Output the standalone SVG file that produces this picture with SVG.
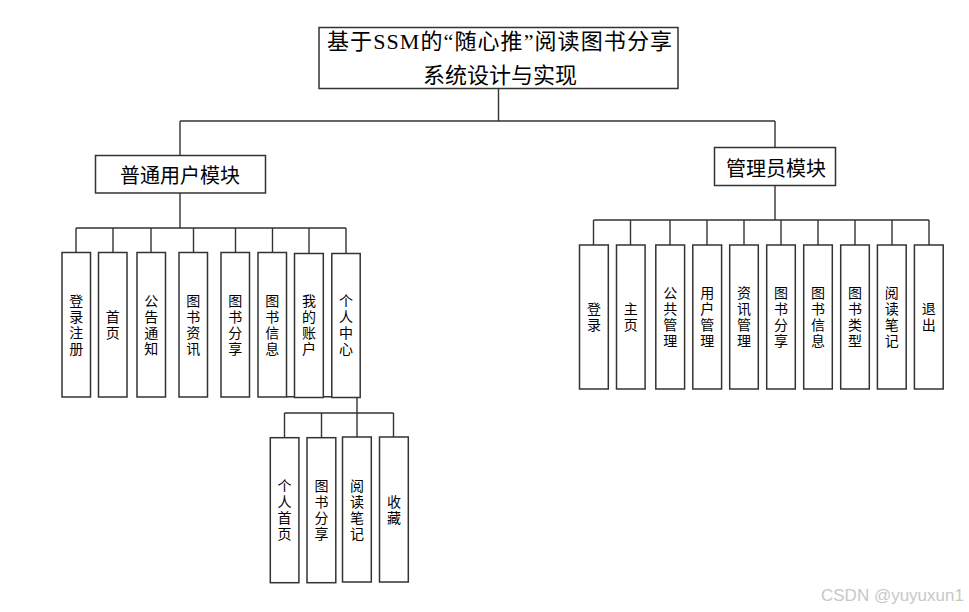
<svg xmlns="http://www.w3.org/2000/svg" width="969" height="612" viewBox="0 0 969 612">
<style>
.box{fill:#fff;stroke:#333;stroke-width:1.5}
.ln{fill:none;stroke:#333;stroke-width:1.4}
.t{font-family:"Liberation Serif","Noto Sans CJK SC",serif;font-size:22px;fill:#000;text-anchor:middle}
.m{font-family:"Noto Sans CJK SC",sans-serif;font-size:20px;fill:#000;text-anchor:middle}
.v{font-family:"Noto Sans CJK SC",sans-serif;font-size:14px;fill:#000;text-anchor:middle;writing-mode:vertical-rl;letter-spacing:2px}
.wm{font-family:"Liberation Sans","Noto Sans",sans-serif;font-size:17px;fill:#c8c8c8}
</style>
<rect width="969" height="612" fill="#fff"/>
<g id="connectors">
<path class="ln" d="M498.5 88V121M180 121H775M180 121V155M775 121V147"/>
<path class="ln" d="M180 193V228M76 228H346M76 228V252M113 228V252M151 228V252M193.5 228V252M235.5 228V252M272.5 228V252M309 228V253M346 228V253"/>
<path class="ln" d="M357 397.5V413M284.5 413H393.5M284.5 413V437.5M321.5 413V437.5M357 413V437M393.5 413V437"/>
<path class="ln" d="M286.5 396.7H331.5"/>
<path class="ln" d="M775 185V220M593.5 220H929M593.5 220V245M630.5 220V245M670 220V245M707 220V245M744 220V245M781 220V245M818 220V245M855 220V245M892 220V245M929 220V245"/>
</g>
<g id="title">
<rect class="box" x="319" y="27.5" width="359" height="61"/>
<text class="t" x="499.5" y="48.5" textLength="345" lengthAdjust="spacing">基于SSM的“随心推”阅读图书分享</text>
<text class="t" x="500" y="83">系统设计与实现</text>
</g>
<g id="user-module">
<rect class="box" x="95.5" y="155.5" width="170" height="37.5"/>
<text class="m" x="180" y="183">普通用户模块</text>
</g>
<g id="admin-module">
<rect class="box" x="714.5" y="147.5" width="121" height="38"/>
<text class="m" x="776" y="175.5">管理员模块</text>
</g>
<g id="u1"><rect class="box" x="62" y="252.5" width="28.5" height="144.5"/><text class="v" x="76.2" y="325.5">登录注册</text></g>
<g id="u2"><rect class="box" x="98.5" y="252.5" width="28.5" height="144.5"/><text class="v" x="112.8" y="325.5">首页</text></g>
<g id="u3"><rect class="box" x="137" y="252.5" width="28.5" height="144.5"/><text class="v" x="151.2" y="325.5">公告通知</text></g>
<g id="u4"><rect class="box" x="179" y="252.5" width="28.5" height="144.5"/><text class="v" x="193.3" y="325.5">图书资讯</text></g>
<g id="u5"><rect class="box" x="221" y="252.5" width="28.5" height="144.5"/><text class="v" x="235.3" y="325.5">图书分享</text></g>
<g id="u6"><rect class="box" x="258" y="252.5" width="28.5" height="144.5"/><text class="v" x="272.2" y="325.5">图书信息</text></g>
<g id="u7"><rect class="box" x="294.5" y="253.5" width="28.8" height="144"/><text class="v" x="308.9" y="326">我的账户</text></g>
<g id="u8"><rect class="box" x="331.8" y="253.5" width="28.4" height="144"/><text class="v" x="346" y="326">个人中心</text></g>
<g id="p1"><rect class="box" x="270.3" y="437.7" width="28.6" height="145"/><text class="v" x="284.6" y="511">个人首页</text></g>
<g id="p2"><rect class="box" x="307" y="437.7" width="28.8" height="145"/><text class="v" x="321.4" y="511">图书分享</text></g>
<g id="p3"><rect class="box" x="342.5" y="437" width="28.8" height="145"/><text class="v" x="356.9" y="510.5">阅读笔记</text></g>
<g id="p4"><rect class="box" x="379.5" y="437" width="28.8" height="145"/><text class="v" x="393.9" y="510.5">收藏</text></g>
<g id="a1"><rect class="box" x="579.5" y="245" width="28.8" height="144"/><text class="v" x="593.9" y="318">登录</text></g>
<g id="a2"><rect class="box" x="616.5" y="245" width="28.6" height="144"/><text class="v" x="630.8" y="318">主页</text></g>
<g id="a3"><rect class="box" x="655.8" y="245" width="28.8" height="144"/><text class="v" x="670.2" y="318">公共管理</text></g>
<g id="a4"><rect class="box" x="692.8" y="245" width="28.8" height="144"/><text class="v" x="707.2" y="318">用户管理</text></g>
<g id="a5"><rect class="box" x="729.7" y="245" width="28.6" height="144"/><text class="v" x="744" y="318">资讯管理</text></g>
<g id="a6"><rect class="box" x="766.7" y="245" width="28.6" height="144"/><text class="v" x="781" y="318">图书分享</text></g>
<g id="a7"><rect class="box" x="803.7" y="245" width="28.6" height="144"/><text class="v" x="818" y="318">图书信息</text></g>
<g id="a8"><rect class="box" x="840.7" y="245" width="28.6" height="144"/><text class="v" x="855" y="318">图书类型</text></g>
<g id="a9"><rect class="box" x="877.4" y="245" width="28.8" height="144"/><text class="v" x="891.8" y="318">阅读笔记</text></g>
<g id="a10"><rect class="box" x="914.4" y="245" width="28.8" height="144"/><text class="v" x="928.8" y="318">退出</text></g>
<text class="wm" x="821" y="601">CSDN @yuyuxun1</text>
</svg>
